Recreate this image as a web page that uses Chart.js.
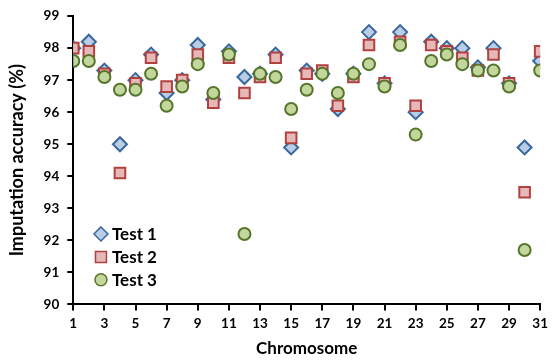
<!DOCTYPE html>
<html>
<head>
<meta charset="utf-8">
<script src="https://cdn.jsdelivr.net/npm/chart.js@4/dist/chart.umd.min.js"></script>
<style>
  html, body { margin: 0; padding: 0; background: #fff; }
  canvas { display: block; }
</style>
</head>
<body>
<canvas id="chart" width="553" height="360"></canvas>
<script>
var chromosomes = [1,2,3,4,5,6,7,8,9,10,11,12,13,14,15,16,17,18,19,20,21,22,23,24,25,26,27,28,29,30,31];
var test1 = [98.0,98.2,97.3,95.0,97.0,97.8,96.6,97.0,98.1,96.4,97.9,97.1,97.2,97.8,94.9,97.3,97.2,96.1,97.2,98.5,96.9,98.5,96.0,98.2,98.0,98.0,97.4,98.0,96.9,94.9,97.6];
var test2 = [98.0,97.9,97.2,94.1,96.9,97.7,96.8,97.0,97.8,96.3,97.7,96.6,97.1,97.7,95.2,97.2,97.3,96.2,97.1,98.1,96.9,98.2,96.2,98.1,97.9,97.7,97.3,97.8,96.9,93.5,97.9];
var test3 = [97.6,97.6,97.1,96.7,96.7,97.2,96.2,96.8,97.5,96.6,97.8,92.2,97.2,97.1,96.1,96.7,97.2,96.6,97.2,97.5,96.8,98.1,95.3,97.6,97.8,97.5,97.3,97.3,96.8,91.7,97.3];
var seriesNames = ["Test 1", "Test 2", "Test 3"];

var fontFamily = "Lato, 'Open Sans', sans-serif";

function pts(vals){
	return vals.map(function(v, i){ return {x: chromosomes[i], y: v}; });
}

var styles = [
	{ pointStyle: "rectRot", bg: "#b9cde5", border: "#3a679d", radius: 7 },
	{ pointStyle: "rect", bg: "#e6b9b8", border: "#b0413f", radius: 7.5 },
	{ pointStyle: "circle", bg: "#c3d69b", border: "#55752a", radius: 6 }
];

// legend drawn inside the plot, bottom left
var insideLegend = {
	id: "insideLegend",
	afterDraw: function(chart){
		var ctx = chart.ctx;
		var xs = chart.scales.x, ys = chart.scales.y;
		var x0 = xs.getPixelForValue(2.78);
		var rows = [92.2, 91.48, 90.77];
		ctx.save();
		ctx.font = "bold 17px " + fontFamily;
		ctx.textBaseline = "middle";
		for (var i = 0; i < 3; i++){
			var y = ys.getPixelForValue(rows[i]);
			var s = styles[i];
			ctx.beginPath();
			ctx.fillStyle = s.bg;
			ctx.strokeStyle = s.border;
			ctx.lineWidth = 1.5;
			if (s.pointStyle === "rectRot"){
				var r = 7;
				ctx.moveTo(x0, y - r); ctx.lineTo(x0 + r, y); ctx.lineTo(x0, y + r); ctx.lineTo(x0 - r, y); ctx.closePath();
			} else if (s.pointStyle === "rect"){
				ctx.rect(x0 - 5.5, y - 5.5, 11, 11);
			} else {
				ctx.arc(x0, y, 6, 0, Math.PI*2);
			}
			ctx.fill(); ctx.stroke();
			ctx.fillStyle = "#000";
			ctx.fillText(seriesNames[i], x0 + 11, y + 1);
		}
		ctx.restore();
	}
};

var datasets = [test1, test2, test3].map(function(vals, i){
	var s = styles[i];
	return {
		label: seriesNames[i],
		data: pts(vals),
		showLine: false,
		pointStyle: s.pointStyle,
		pointRadius: s.radius,
		pointBackgroundColor: s.bg,
		pointBorderColor: s.border,
		pointBorderWidth: 2,
		order: 2 - i
	};
});

new Chart(document.getElementById("chart"), {
	type: "scatter",
	data: { datasets: datasets },
	plugins: [insideLegend],
	options: {
		responsive: false,
		animation: false,
		devicePixelRatio: 1,
		layout: { padding: { top: 4, right: 0, left: 6, bottom: 1 } },
		plugins: { legend: { display: false }, tooltip: { enabled: false } },
		scales: {
			x: {
				type: "linear",
				min: 1, max: 31,
				border: { display: true, color: "#000", width: 2 },
				grid: { drawOnChartArea: false, drawTicks: true, tickLength: 6, color: "#000", lineWidth: 2 },
				ticks: { stepSize: 2, autoSkip: false, color: "#000", font: { family: fontFamily, size: 13.5, weight: "bold" }, maxRotation: 0, padding: 5 },
				title: { display: true, text: "Chromosome", color: "#000", font: { family: fontFamily, size: 17, weight: "bold" }, padding: { top: 2, bottom: 0 } }
			},
			y: {
				min: 90, max: 99,
				border: { display: true, color: "#000", width: 2 },
				grid: { drawOnChartArea: false, drawTicks: true, tickLength: 6, color: "#000", lineWidth: 2 },
				ticks: { stepSize: 1, autoSkip: false, color: "#000", font: { family: fontFamily, size: 13.5, weight: "bold" }, padding: 8 },
				title: { display: true, text: "Imputation accuracy (%)", color: "#000", font: { family: fontFamily, size: 18, weight: "bold" }, padding: { top: 0, bottom: 8 } }
			}
		}
	}
});
</script>
</body>
</html>
